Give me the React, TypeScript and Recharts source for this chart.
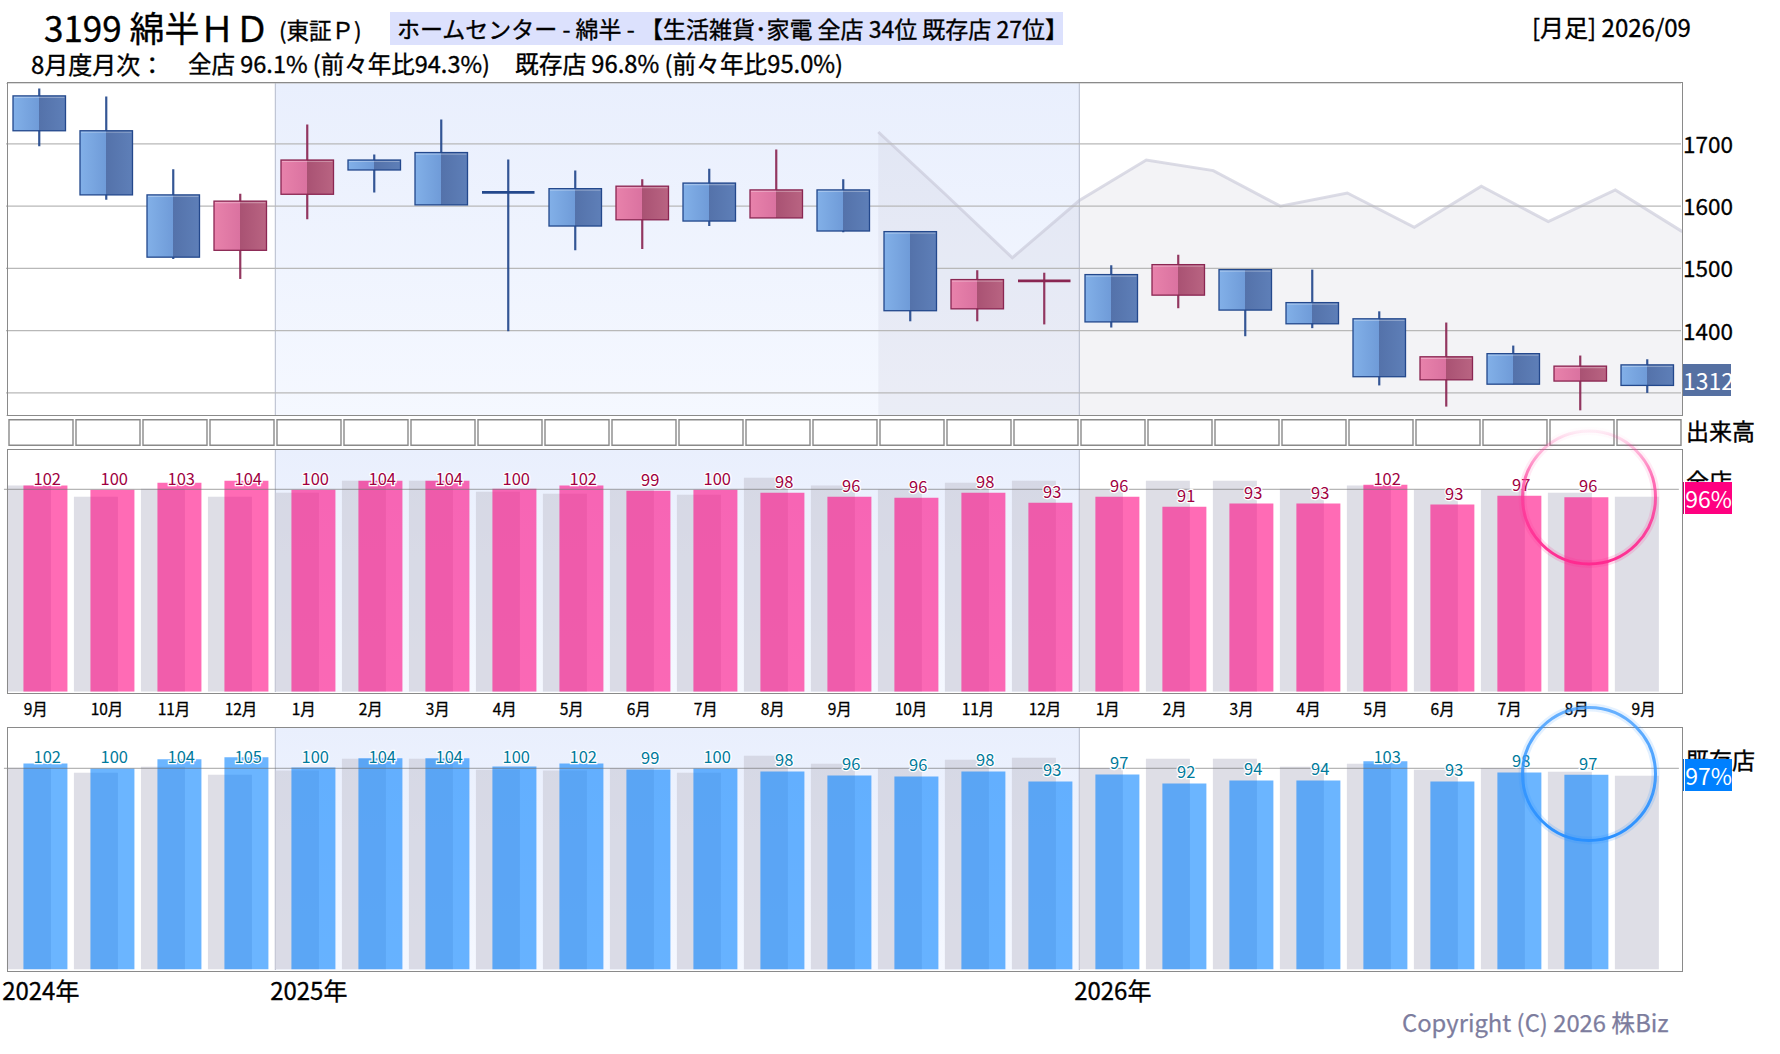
import React from 'react';
import {
    Area, Bar, BarChart, CartesianGrid, ComposedChart, LabelList,
    ReferenceArea, ReferenceLine, XAxis, YAxis
} from 'recharts';

const FONT = '"Noto Sans CJK JP", "Noto Sans", sans-serif';

const months = ['9月', '10月', '11月', '12月', '1月', '2月', '3月', '4月', '5月', '6月', '7月', '8月', '9月', '10月', '11月', '12月', '1月', '2月', '3月', '4月', '5月', '6月', '7月', '8月', '9月'];
const yearLabels = ['2024年', '', '', '', '2025年', '', '', '', '', '', '', '', '', '', '', '', '2026年', '', '', '', '', '', '', '', ''];

// monthly candles
const opens = [1777, 1721, 1618, 1529, 1619, 1674, 1686, 1622, 1628, 1578, 1637, 1581, 1626, 1559, 1435, 1480, 1490, 1457, 1498, 1445, 1419, 1321, 1363, 1319, 1345];
const closes = [1721, 1618, 1518, 1608, 1674, 1658, 1602, 1621.5, 1568, 1632, 1576, 1626, 1560, 1432, 1482, 1480, 1414, 1506, 1433, 1411, 1326, 1358, 1314, 1343, 1312];
const highs = [1789, 1776, 1659, 1620, 1731, 1683, 1739, 1675, 1657, 1643, 1660, 1691, 1643, 1559, 1497, 1493, 1505, 1522, 1499, 1498, 1431, 1413, 1376, 1360, 1354];
const lows = [1696, 1610, 1515, 1483, 1579, 1622, 1602, 1399, 1529, 1531, 1568, 1581, 1558, 1415, 1415, 1410, 1405, 1436, 1391, 1404, 1312, 1278, 1314, 1272, 1300];
const priceTicks = [1300, 1400, 1500, 1600, 1700];

// grey line behind the candles, sits on the month edges from 13 to 25
const trendStart = 13;
const trendValues = [1719, 1619, 1517, 1609, 1674, 1657, 1600, 1621, 1566, 1632, 1575, 1626, 1559];

const volumeBoxes = [1, 1, 1, 1, 1, 1, 1, 1, 1, 1, 1, 1, 1, 1, 1, 1, 1, 1, 1, 1, 1, 1, 1, 1, 1];

// 全店
const allStore = [101.9, 99.9, 103.3, 104.3, 99.9, 104.3, 104.3, 100.4, 101.9, 99.4, 99.9, 98.4, 96.4, 95.9, 98.4, 93.4, 96.4, 91.5, 93, 93, 102.3, 92.5, 96.9, 96.1, null];
const allStoreLabels = [102, 100, 103, 104, 100, 104, 104, 100, 102, 99, 100, 98, 96, 96, 98, 93, 96, 91, 93, 93, 102, 93, 97, 96, null];
const allStorePrev = [101.9, 96.4, 100.4, 96.4, 98.4, 104.3, 104.3, 98.9, 97.9, 99.9, 97.4, 105.8, 101.9, 100, 103.3, 104.3, 99.9, 104.3, 104.3, 100.4, 101.9, 99.9, 99.9, 98.4, 96.4];

// 既存店
const existing = [102.5, 100, 104.5, 105.5, 100.5, 105, 105, 101, 102.5, 99.5, 100, 98.5, 96.5, 96, 98.5, 93.5, 97, 92.5, 94, 94, 103.5, 93.5, 98, 96.8, null];
const existingLabels = [102, 100, 104, 105, 100, 104, 104, 100, 102, 99, 100, 98, 96, 96, 98, 93, 97, 92, 94, 94, 103, 93, 98, 97, null];
const existingPrev = [100.3, 97.8, 100.8, 96.8, 99, 104.8, 104.8, 99.3, 99, 100.2, 97.8, 106.3, 102.3, 100, 104.3, 105.3, 100.2, 104.8, 104.8, 100.8, 102.3, 99.3, 100.2, 98.3, 96.4];

const candleRows = months.map((month, i) => ({ month, open: opens[i], close: closes[i], high: highs[i], low: lows[i] }));
const edgeRows = Array.from({ length: 26 }, (_, i) => ({ edge: i, trend: i >= trendStart ? trendValues[i - trendStart] : null }));
const allStoreRows = months.map((month, i) => ({ month, value: allStore[i], label: allStoreLabels[i], prev: allStorePrev[i] }));
const existingRows = months.map((month, i) => ({ month, value: existing[i], label: existingLabels[i], prev: existingPrev[i], year: yearLabels[i] }));
const boxRows = volumeBoxes.map((v, i) => ({ month: i, v }));

const PRICE_DOMAIN = [1262.9, 1797.7];
const PLOT_LEFT = 7.3;
const PLOT_RIGHT = 1682.3;

const Candle = (props: any) => {
    const { x, y, width, height, payload } = props;
    const unit = height / (payload.high - payload.low);
    const at = (v: number) => y + (payload.high - v) * unit;
    const up = payload.close >= payload.open;
    const edge = up ? '#8a2652' : '#23488c';
    const top = at(Math.max(payload.open, payload.close));
    const bottom = at(Math.min(payload.open, payload.close));
    const cx = x + width / 2;
    const flat = bottom - top < 2;
    return (
        <g>
            <line x1={cx} x2={cx} y1={y} y2={y + height} stroke={edge} strokeOpacity={0.92} strokeWidth={2.2} />
            {flat ? (
                <line x1={x} x2={x + width} y1={top} y2={top} stroke={edge} strokeWidth={2.8} />
            ) : (
                <>
                    <rect x={x} y={top} width={width} height={bottom - top} fill={up ? 'url(#upBody)' : 'url(#downBody)'} stroke={edge} strokeWidth={1.3} />
                    <line x1={x + 1} x2={x + width - 1} y1={top + 1.5} y2={top + 1.5} stroke="#fff" strokeOpacity={0.3} strokeWidth={1.2} />
                </>
            )}
        </g>
    );
};

// shaded 2025 block, and the grey line for the price panel
const Backdrop = ({ top, height, id, trend, domain }: any) => (
    <div style={{ position: 'absolute', left: 0, top }}>
        <ComposedChart width={1780} height={height} data={edgeRows} margin={{ top: 0, bottom: 0, left: PLOT_LEFT, right: 1780 - PLOT_RIGHT }}>
            <defs>
                <linearGradient id={id} x1="0" y1="0" x2="0" y2="1">
                    <stop offset="0%" stopColor="#e9effd" />
                    <stop offset="100%" stopColor="#f5f8ff" />
                </linearGradient>
            </defs>
            <XAxis dataKey="edge" type="number" domain={[0, 25]} hide />
            <YAxis domain={domain} hide allowDataOverflow />
            <ReferenceArea x1={4} x2={16} fill={`url(#${id})`} fillOpacity={1} stroke="none" />
            <ReferenceLine x={4} stroke="#b4bbcb" />
            <ReferenceLine x={16} stroke="#b4bbcb" />
            {trend && (
                <Area
                    dataKey="trend"
                    type="linear"
                    stroke="#c6c6d6"
                    strokeOpacity={0.62}
                    strokeWidth={3}
                    fill="#bcbccc"
                    fillOpacity={0.18}
                    dot={false}
                    isAnimationActive={false}
                />
            )}
        </ComposedChart>
    </div>
);

const priceTick = (props: any) => {
    const { x, y, payload } = props;
    if (payload.value === 1300) return <g />;
    return (
        <text x={x - 6} y={y + 9} fontFamily={FONT} fontSize={22.5} fill="#000" stroke="#000" strokeWidth={0.3} textAnchor="start">{payload.value}</text>
    );
};

const barLabel = (color: string, minY: number) => (props: any) => {
    const { x, y, width, value } = props;
    if (value === null || value === undefined) return null;
    return (
        <text
            x={x + width / 2 + 1.8}
            y={Math.max(y - 12, minY)}
            dominantBaseline="central"
            textAnchor="middle"
            fontFamily={FONT}
            fontSize={16.5}
            fill={color}
            stroke="#fff"
            strokeWidth={2.4}
            style={{ paintOrder: 'stroke' }}
        >
            {value}
        </text>
    );
};

const monthTick = (props: any) => {
    const { x, y, payload } = props;
    return <text x={x - 13.75} y={y + 15} fontFamily={FONT} fontSize={15.5} fill="#000" stroke="#000" strokeWidth={0.3}>{payload.value}</text>;
};

const yearTick = (props: any) => {
    const { x, y, index } = props;
    return <text x={x - 35.25} y={y + 22.5} fontFamily={FONT} fontSize={24} fill="#000" stroke="#000" strokeWidth={0.3}>{yearLabels[index]}</text>;
};

const StoreBars = ({ top, height, rows, domain, color, labelColor, tick, axisHeight }: any) => (
    <div style={{ position: 'absolute', left: 0, top }}>
        <BarChart width={1780} height={height} data={rows} barGap={-27.5} barCategoryGap={0} margin={{ top: 0, bottom: 0, left: 3.9, right: 101.1 }}>
            <XAxis dataKey="month" tick={tick} interval={0} axisLine={false} tickLine={false} height={axisHeight} />
            <YAxis domain={domain} hide allowDataOverflow />
            <Bar dataKey="prev" barSize={44} fill="#c9c9d6" fillOpacity={0.62} isAnimationActive={false} />
            <Bar dataKey="value" barSize={44} fill={color} fillOpacity={0.58} isAnimationActive={false}>
                <LabelList dataKey="label" content={barLabel(labelColor, 28.8)} />
            </Bar>
            <ReferenceLine y={100} stroke="#6e6e6e" strokeOpacity={0.5} strokeWidth={1.2} />
        </BarChart>
    </div>
);

const Txt = ({ x, y, size, color = '#000', weight = 0.35, children }: any) => (
    <div style={{
        position: 'absolute', left: x, top: y, transform: 'translateY(-50%)', fontFamily: FONT,
        fontSize: size, lineHeight: 1, color, whiteSpace: 'nowrap', WebkitTextStroke: `${weight}px ${color}`
    }}>{children}</div>
);

const Frame = ({ top, bottom }: any) => (
    <div style={{
        position: 'absolute', left: PLOT_LEFT - 0.7, top: top - 0.7, width: PLOT_RIGHT - PLOT_LEFT + 1.4,
        height: bottom - top + 1.4, boxSizing: 'border-box', border: '1.4px solid #8a8a8a', pointerEvents: 'none'
    }} />
);

const Tag = ({ left = 1685, width = 47, top, height, bg, line, children, size = 23 }: any) => (
    <>
        {line && <div style={{ position: 'absolute', left: 1683, top, width: 1.4, height, background: line }} />}
        <div style={{
            position: 'absolute', left, top, width, height, background: bg, color: '#fff', fontFamily: FONT,
            fontSize: size, lineHeight: `${height}px`, textAlign: 'center', boxSizing: 'border-box'
        }}>{children}</div>
    </>
);

const App = () => (
    <div style={{ position: 'absolute', left: 0, top: 0, width: 1780, height: 1054, background: '#fff', overflow: 'hidden' }}>
        {/* header */}
        <Txt x={44} y={26} size={35}>3199 綿半ＨＤ</Txt>
        <Txt x={279} y={29} size={22.5}>(東証Ｐ)</Txt>
        <div style={{ position: 'absolute', left: 390, top: 12, width: 673, height: 33, background: '#dce1fd' }} />
        <Txt x={397} y={28} size={23}>ホームセンター - 綿半 - 【生活雑貨･家電 全店 34位 既存店 27位】</Txt>
        <Txt x={1532} y={27} size={24}>[月足] 2026/09</Txt>
        <Txt x={31} y={64} size={24}>8月度月次：</Txt>
        <Txt x={188} y={64} size={23.5}>全店 96.1% (前々年比94.3%)</Txt>
        <Txt x={515} y={64} size={23.7}>既存店 96.8% (前々年比95.0%)</Txt>

        {/* price panel */}
        <Backdrop top={82.5} height={333} id="shadePrice" trend domain={PRICE_DOMAIN} />
        <div style={{ position: 'absolute', left: 0, top: 82.5 }}>
            <ComposedChart width={1780} height={333} data={candleRows} barCategoryGap={0} margin={{ top: 0, bottom: 0, left: 6, right: 0 }}>
                <defs>
                    <linearGradient id="downBody" x1="0" y1="0" x2="1" y2="0">
                        <stop offset="0%" stopColor="#82b0e8" />
                        <stop offset="50%" stopColor="#6f9bd8" />
                        <stop offset="50%" stopColor="#5472aa" />
                        <stop offset="100%" stopColor="#5e7fb8" />
                    </linearGradient>
                    <linearGradient id="upBody" x1="0" y1="0" x2="1" y2="0">
                        <stop offset="0%" stopColor="#e882ab" />
                        <stop offset="50%" stopColor="#da72a0" />
                        <stop offset="50%" stopColor="#a95273" />
                        <stop offset="100%" stopColor="#b96482" />
                    </linearGradient>
                </defs>
                <CartesianGrid vertical={false} stroke="#b8b8b8" strokeWidth={1.2} />
                <XAxis dataKey="month" hide />
                <YAxis
                    orientation="right"
                    width={99}
                    domain={PRICE_DOMAIN}
                    ticks={priceTicks}
                    tick={priceTick}
                    axisLine={false}
                    tickLine={false}
                    allowDataOverflow
                />
                <Bar dataKey={(d: any) => [d.low, d.high]} barSize={52.5} shape={Candle} isAnimationActive={false} />
            </ComposedChart>
        </div>
        <Frame top={82.5} bottom={415} />

        {/* empty volume boxes */}
        <div style={{ position: 'absolute', left: 0, top: 419 }}>
            <BarChart width={1780} height={27} data={boxRows} barCategoryGap={0} margin={{ top: 0.7, bottom: 0.7, left: 7, right: 98 }}>
                <XAxis dataKey="month" hide />
                <YAxis domain={[0, 1]} hide />
                <Bar dataKey="v" barSize={64} fill="#fff" stroke="#8a8a8a" strokeWidth={1.4} isAnimationActive={false} />
            </BarChart>
        </div>
        <Txt x={1686} y={430} size={23}>出来高</Txt>

        {/* 全店 */}
        <Backdrop top={449.3} height={243} id="shadeAll" domain={[0, 120]} />
        <StoreBars top={449.3} height={272.7} rows={allStoreRows} domain={[0, 120]} color="#ff0080" labelColor="#a0003f" tick={monthTick} axisHeight={30} />
        <Frame top={449.3} bottom={693.3} />
        <Txt x={1686} y={480} size={23}>全店</Txt>

        {/* 既存店 */}
        <Backdrop top={727.3} height={243} id="shadeExisting" domain={[0, 120.6]} />
        <StoreBars top={727.3} height={282.4} rows={existingRows} domain={[0, 120.6]} color="#0080ff" labelColor="#007a9c" tick={yearTick} axisHeight={40} />
        <Frame top={727.3} bottom={971} />
        <Txt x={1686} y={759} size={23}>既存店</Txt>

        {/* current month circles */}
        <svg width={1780} height={1054} style={{ position: 'absolute', left: 0, top: 0, pointerEvents: 'none' }}>
            <defs>
                <linearGradient id="ringPink" x1="0" y1="0" x2="0" y2="1">
                    <stop offset="0%" stopColor="#ff3d9c" stopOpacity={0.08} />
                    <stop offset="35%" stopColor="#ff3d9c" stopOpacity={0.7} />
                    <stop offset="100%" stopColor="#ff2a90" stopOpacity={1} />
                </linearGradient>
                <linearGradient id="ringBlue" x1="0" y1="0" x2="0" y2="1">
                    <stop offset="0%" stopColor="#3d9bff" stopOpacity={0.75} />
                    <stop offset="100%" stopColor="#2a90ff" stopOpacity={1} />
                </linearGradient>
            </defs>
            <circle cx={1589} cy={497.5} r={66.5} fill="none" stroke="url(#ringPink)" strokeOpacity={0.18} strokeWidth={8} />
            <circle cx={1589} cy={497.5} r={66.5} fill="none" stroke="url(#ringPink)" strokeWidth={3} />
            <circle cx={1589} cy={774} r={66.5} fill="none" stroke="url(#ringBlue)" strokeOpacity={0.18} strokeWidth={8} />
            <circle cx={1589} cy={774} r={66.5} fill="none" stroke="url(#ringBlue)" strokeWidth={3} />
        </svg>

        <Tag left={1683} width={48} top={364} height={32} bg="#5570a2">1312</Tag>
        <Tag top={482} height={32} bg="#ff0080" line="#c4006a">96%</Tag>
        <Tag top={759} height={32} bg="#0080ff" line="#0068d0">97%</Tag>

        <Txt x={1402} y={1022} size={23.8} color="#7d7d9e" weight={0.25}>Copyright (C) 2026 株Biz</Txt>
    </div>
);

export default App;
